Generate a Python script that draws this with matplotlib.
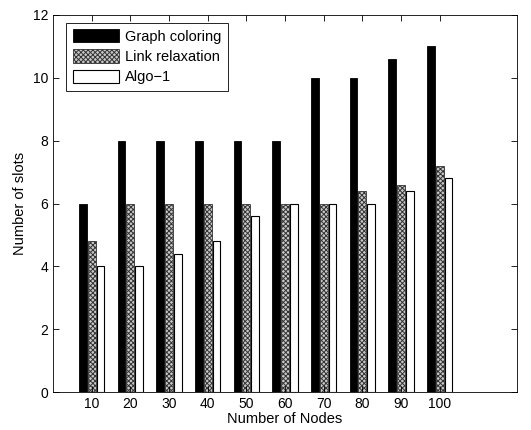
import numpy as np
import matplotlib
matplotlib.use("Agg")
import matplotlib.pyplot as plt

plt.rcParams['font.family'] = ['Liberation Sans', 'DejaVu Sans']
plt.rcParams['hatch.linewidth'] = 0.7

nodes = [10, 20, 30, 40, 50, 60, 70, 80, 90, 100]
graph_coloring = [6, 8, 8, 8, 8, 8, 10, 10, 10.6, 11]
link_relaxation = [4.8, 6, 6, 6, 6, 6, 6, 6.4, 6.6, 7.2]
algo_1 = [4, 4, 4.4, 4.8, 5.6, 6, 6, 6, 6.4, 6.8]

fig = plt.figure(figsize=(5.31, 4.30), dpi=100)
ax = fig.add_axes([53/531, 1 - 392/430, (517-53)/531, (392-15)/430])

x = np.arange(1, len(nodes) + 1)
w = 0.2
off = 0.23
ax.bar(x - off, graph_coloring, w, color='black', edgecolor='black', linewidth=0.6,
       label='Graph coloring')
ax.bar(x, link_relaxation, w, facecolor='#c8c8c8', edgecolor='#333333', hatch='xxxxxxx',
       linewidth=0.6, label='Link relaxation')
ax.bar(x + off, algo_1, w, facecolor='white', edgecolor='black', linewidth=0.8,
       label='Algo\u22121')

ax.set_xlim(0, 12)
ax.set_ylim(0, 12)
ax.set_xticks(x)
ax.set_xticklabels([str(n) for n in nodes])
ax.set_yticks(np.arange(0, 13, 2))
ax.tick_params(direction='in', top=True, right=True, labelsize=10, length=4, width=0.6)
for s in ax.spines.values():
    s.set_linewidth(0.6)
ax.set_xlabel('Number of Nodes', fontsize=10.5, labelpad=1)
ax.set_ylabel('Number of slots', fontsize=10.5)

leg = ax.legend(loc='upper left', bbox_to_anchor=(0.028, 0.98), fontsize=10.5,
                frameon=True, fancybox=False, edgecolor='black', framealpha=1,
                handlelength=3.2, handleheight=1.0, borderpad=0.45, labelspacing=0.4,
                handletextpad=0.4, borderaxespad=0)
leg.get_frame().set_linewidth(0.6)

fig.savefig('out.png', dpi=100)
